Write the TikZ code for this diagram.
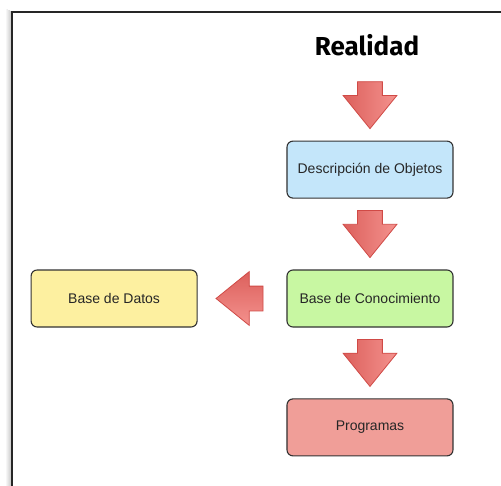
\documentclass[tikz,border=0pt]{standalone}
\usepackage{fontspec}
\setmainfont{Liberation Sans}
\newfontfamily\titulofont{Fira Sans}
\usepackage{xcolor}
\usepackage{tikz}
\usetikzlibrary{matrix}
\usetikzlibrary{shapes.arrows}
\definecolor{azul}{HTML}{C4E6FA}
\definecolor{verde}{HTML}{C8F7A2}
\definecolor{amarillo}{HTML}{FDF0A0}
\definecolor{rojo}{HTML}{F09E98}
\definecolor{flechaosc}{HTML}{DC605C}
\definecolor{flechaclr}{HTML}{F4928E}
\definecolor{flechaborde}{HTML}{D04A46}
\tikzset{caja/.style={draw=black!80, line width=1.1pt, rounded corners=6pt, minimum width=166pt, minimum height=57pt, font=\fontsize{14}{16}\selectfont, text=black!85}}
\tikzset{flecha/.style={single arrow, draw=flechaborde, line width=0.8pt, inner xsep=0pt, inner ysep=12pt, minimum height=47pt, single arrow head extend=14.5pt, single arrow tip angle=78}}
\tikzset{abajo/.style={flecha, rotate=-90, left color=flechaosc, right color=flechaclr}}
\tikzset{izquierda/.style={flecha, rotate=180, top color=flechaosc, bottom color=flechaclr}}

\begin{document}
\begin{tikzpicture}[x=1pt,y=1pt]
\useasboundingbox (0,0) rectangle (501,-486);
\fill[white] (0,0) rectangle (501,-486);
% marco
\foreach \i in {1,...,6}
  \draw[black, line width=1pt, opacity=0.035*(7-\i)] (12-\i,-12+\i/2) -- (12-\i,-486);
\draw[line width=1.3pt, black!85] (501,-12) -- (12,-12) -- (12,-486);
\matrix[column sep=18pt, row sep=11.5pt, matrix anchor=conoc.center] at (370,-298.5)
{
 &[0pt] &[5pt] \node[xshift=-3pt, font=\titulofont\bfseries\fontsize{26}{30}\selectfont] (realidad) {Realidad};\\[10pt]
 & & \node[abajo] (f1) {};\\
 & & \node[caja, fill=azul] (objetos) {Descripción de Objetos};\\
 & & \node[abajo] (f2) {};\\
\node[caja, fill=amarillo] (datos) {Base de Datos}; & \node[izquierda] (f3) {}; & \node[caja, fill=verde] (conoc) {Base de Conocimiento};\\
 & & \node[abajo] (f4) {};\\
 & & \node[caja, fill=rojo] (programas) {Programas};\\
};
\end{tikzpicture}
\end{document}
